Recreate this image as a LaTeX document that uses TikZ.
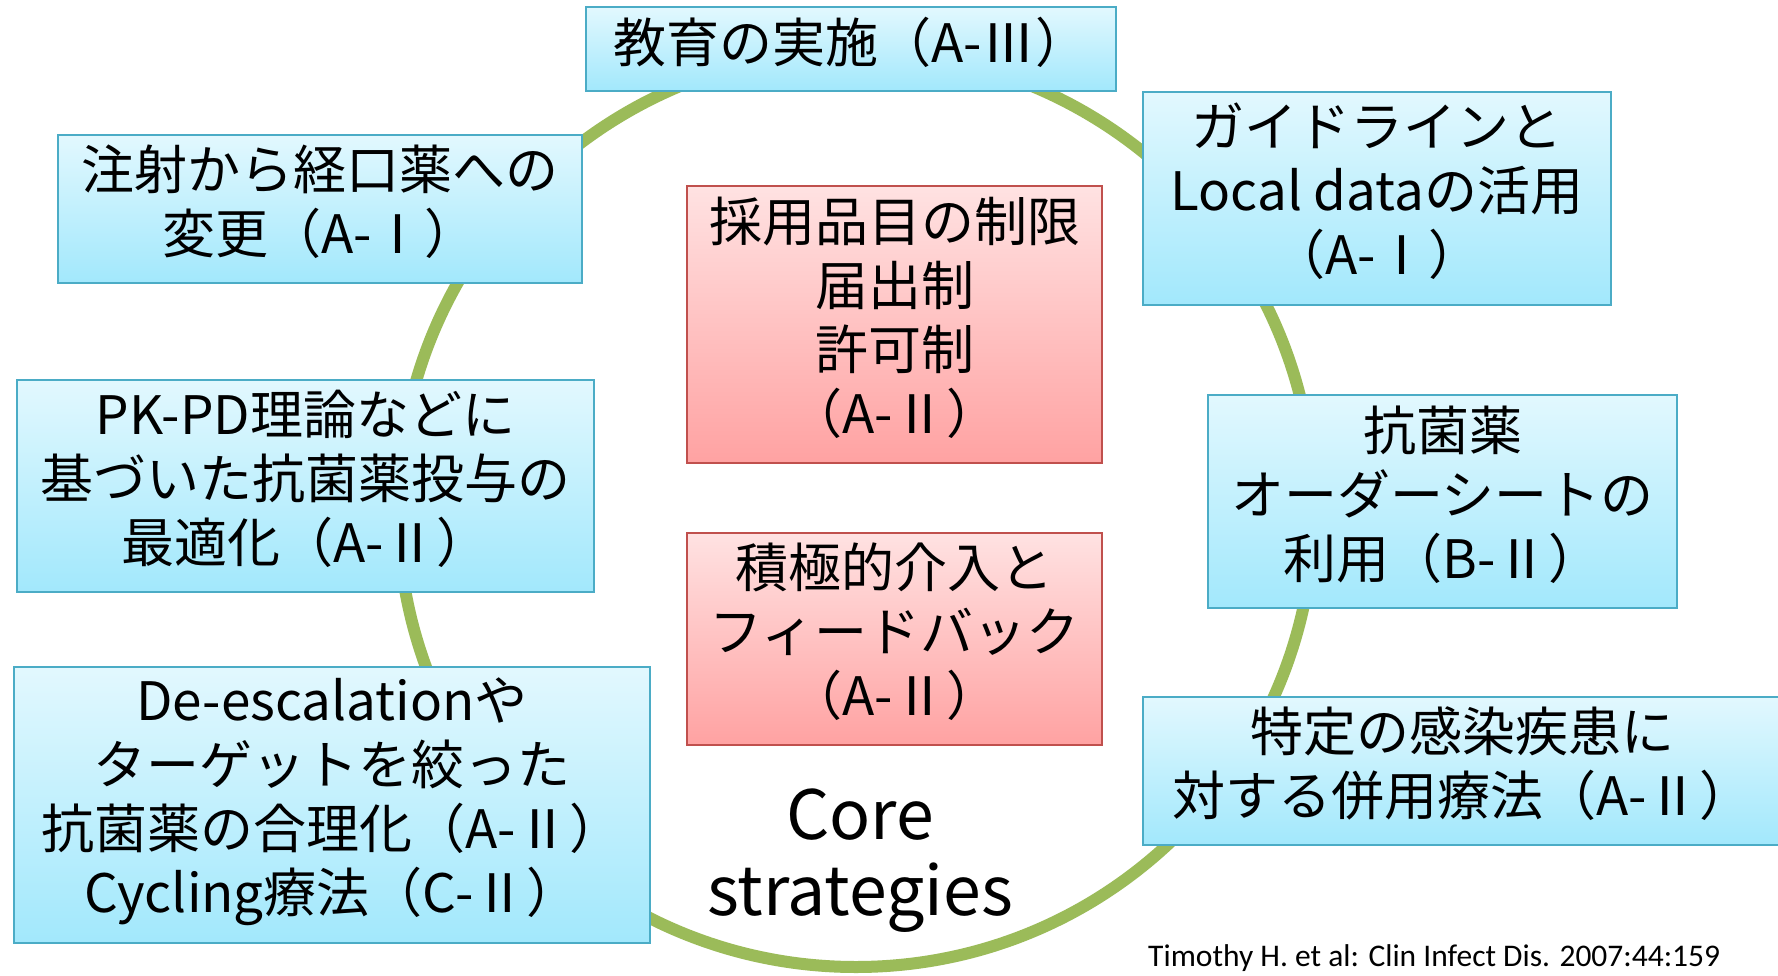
\documentclass[tikz,border=0pt]{standalone}
\usepackage{fontspec}
\setmainfont{Noto Sans CJK JP}
\newfontfamily\citefont{Carlito}
\definecolor{ringgreen}{HTML}{9BBB59}
\definecolor{blueedge}{HTML}{4BACC6}
\definecolor{bluetop}{HTML}{E2F8FE}
\definecolor{bluebot}{HTML}{A2E8FC}
\definecolor{rededge}{HTML}{C0504D}
\definecolor{redtop}{HTML}{FFE2E2}
\definecolor{redbot}{HTML}{FFA2A2}
\begin{document}
\begin{tikzpicture}[x=1pt,y=-1pt,
  bluebox/.style={draw=blueedge, line width=1.8pt, top color=bluetop, bottom color=bluebot,
    inner sep=0pt, align=center, text depth=19pt, font=\fontsize{53}{64}\selectfont},
  redbox/.style={draw=rededge, line width=1.8pt, top color=redtop, bottom color=redbot,
    inner sep=0pt, align=center, text depth=19pt, font=\fontsize{53}{64}\selectfont},
  ringline/.style={draw=ringgreen, line width=12pt},
  corelabel/.style={align=center, font=\fontsize{68}{76}\selectfont},
  citelabel/.style={font=\citefont\fontsize{31.5}{36}\selectfont, inner sep=0pt}]
\useasboundingbox (0,0) rectangle (1778,975);
\clip (0,0) rectangle (1778,975);
\fill[white] (0,0) rectangle (1778,975);
% ring
\coordinate (c) at (856,509);
\draw[ringline] (c) circle (458pt);
% blue boxes
\node[bluebox, minimum width=530pt, minimum height=84pt] (edu) at (851,49) {教育の実施（A-Ⅲ）};
\node[bluebox, minimum width=524pt, minimum height=148pt] (iv) at (320,209) {注射から経口薬への\\変更（A-Ⅰ）};
\node[bluebox, minimum width=577pt, minimum height=212pt] (pkpd) at (305.5,486) {PK-PD理論などに\\基づいた抗菌薬投与の\\最適化（A-Ⅱ）};
\node[bluebox, minimum width=636pt, minimum height=276pt] (deesc) at (332,805) {De-escalationや\\ターゲットを絞った\\抗菌薬の合理化（A-Ⅱ）\\Cycling療法（C-Ⅱ）};
\node[bluebox, minimum width=468pt, minimum height=213pt] (guide) at (1377,198.5) {ガイドラインと\\Local dataの活用\\（A-Ⅰ）};
\node[bluebox, minimum width=469pt, minimum height=213pt] (order) at (1442.5,501.5) {抗菌薬\\オーダーシートの\\利用（B-Ⅱ）};
\node[bluebox, minimum width=639pt, minimum height=148pt] (combo) at (1462.5,771) {特定の感染疾患に\\対する併用療法（A-Ⅱ）};
% red boxes
\node[redbox, minimum width=415pt, minimum height=277pt] (restrict) at (894.5,324.5) {採用品目の制限\\届出制\\許可制\\（A-Ⅱ）};
\node[redbox, minimum width=415pt, minimum height=212pt] (feedback) at (894.5,639) {積極的介入と\\フィードバック\\（A-Ⅱ）};
% labels
\node[corelabel] (core) at (860,861) {Core\\strategies};
\node[citelabel, anchor=base west] (cite) at (1148,966) {Timothy H. et al: Clin Infect Dis. 2007:44:159};
\end{tikzpicture}
\end{document}
